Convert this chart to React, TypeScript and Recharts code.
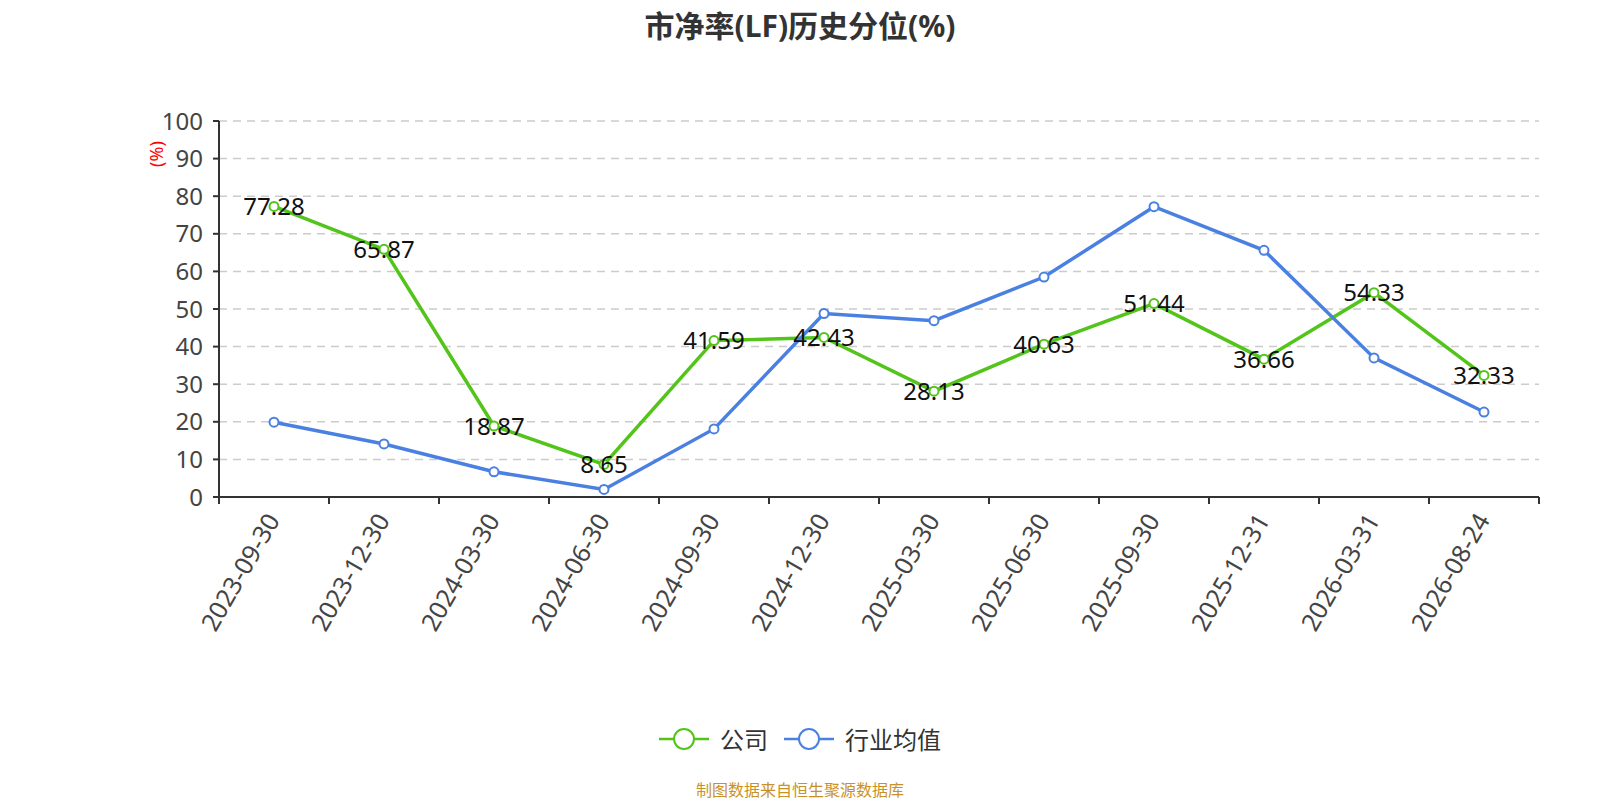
import { LineChart, Line, XAxis, YAxis, CartesianGrid, LabelList } from 'recharts'

const dates = [
  '2023-09-30', '2023-12-30', '2024-03-30', '2024-06-30', '2024-09-30', '2024-12-30',
  '2025-03-30', '2025-06-30', '2025-09-30', '2025-12-31', '2026-03-31', '2026-08-24',
]
const company = [77.28, 65.87, 18.87, 8.65, 41.59, 42.43, 28.13, 40.63, 51.44, 36.66, 54.33, 32.33]
const industry = [19.9, 14.1, 6.7, 2.0, 18.1, 48.8, 46.9, 58.5, 77.2, 65.6, 37.0, 22.6]
const yTicks = [0, 10, 20, 30, 40, 50, 60, 70, 80, 90, 100]

const GREEN = '#52c41a'
const BLUE = '#4a80e1'
const FONT = '"Noto Sans", "Noto Sans CJK SC", sans-serif'

const W = 1600
const H = 800
const PLOT_LEFT = 219
const PLOT_RIGHT = 1539
const PLOT_TOP = 121
const PLOT_BOTTOM = 497
const Y_AXIS_W = 70
const X_AXIS_H = 130
const BAND = (PLOT_RIGHT - PLOT_LEFT) / dates.length

const data = dates.map((date, i) => ({ date, company: company[i], industry: industry[i] }))

// x tick: tick marks sit on the band edges, label rotated under the band centre
function DateTick(props: any) {
  const { x, y, payload, index } = props
  const left = x - BAND / 2
  const last = index === dates.length - 1
  const tx = x - 2
  const ty = y + 18
  return (
    <g>
      <line x1={left} y1={y} x2={left} y2={y + 7} stroke="#333" strokeWidth={2} />
      {last && <line x1={x + BAND / 2} y1={y} x2={x + BAND / 2} y2={y + 7} stroke="#333" strokeWidth={2} />}
      <text
        x={tx}
        y={ty}
        transform={`rotate(-60, ${tx}, ${ty})`}
        textAnchor="end"
        dominantBaseline="central"
        fontSize={25}
        fill="#444"
        fontFamily={FONT}
      >
        {payload.value}
      </text>
    </g>
  )
}

function ValueLabel(props: any) {
  const { x, y, value } = props
  return (
    <text x={x} y={y - 1} textAnchor="middle" dominantBaseline="central" fontSize={24} fill="#111" fontFamily={FONT}>
      {Number(value).toFixed(2)}
    </text>
  )
}

function LegendItem({ color, label }: { color: string; label: string }) {
  return (
    <div style={{ display: 'flex', alignItems: 'center', marginRight: 16 }}>
      <svg width={50} height={26}>
        <line x1={0} y1={13} x2={50} y2={13} stroke={color} strokeWidth={2.5} />
        <circle cx={25} cy={13} r={10} fill="#fff" stroke={color} strokeWidth={2} />
      </svg>
      <span style={{ marginLeft: 11, fontSize: 24, color: '#333' }}>{label}</span>
    </div>
  )
}

export default function App() {
  return (
    <div style={{ position: 'absolute', left: 0, top: 0, width: W, height: H, background: '#fff', fontFamily: FONT }}>
      <div style={{ position: 'absolute', top: 2, width: W, textAlign: 'center', fontSize: 30, fontWeight: 700, color: '#333' }}>
        市净率(LF)历史分位(%)
      </div>
      <div
        style={{
          position: 'absolute', left: 143, top: 142, fontSize: 18, color: '#f00',
          transform: 'rotate(-90deg)', transformOrigin: 'center',
        }}
      >
        (%)
      </div>
      <LineChart
        width={W}
        height={H}
        data={data}
        margin={{
          top: PLOT_TOP,
          left: PLOT_LEFT - Y_AXIS_W,
          right: W - PLOT_RIGHT,
          bottom: H - PLOT_BOTTOM - X_AXIS_H,
        }}
      >
        <CartesianGrid vertical={false} stroke="#ccc" strokeWidth={1.5} strokeDasharray="8 6" horizontalValues={yTicks.slice(1)} />
        <XAxis
          dataKey="date"
          height={X_AXIS_H}
          interval={0}
          padding={{ left: BAND / 2, right: BAND / 2 }}
          tickLine={false}
          tickSize={0}
          tickMargin={0}
          axisLine={{ stroke: '#333', strokeWidth: 2 }}
          tick={<DateTick />}
        />
        <YAxis
          domain={[0, 100]}
          ticks={yTicks}
          width={Y_AXIS_W}
          tickSize={6}
          tickMargin={10}
          axisLine={{ stroke: '#333', strokeWidth: 2 }}
          tickLine={{ stroke: '#333', strokeWidth: 2 }}
          tick={{ fontSize: 24, fill: '#444', fontFamily: FONT }}
        />
        <Line
          dataKey="company"
          stroke={GREEN}
          strokeWidth={3.5}
          dot={{ r: 4.5, fill: '#fff', stroke: GREEN, strokeWidth: 2 }}
          isAnimationActive={false}
        />
        <Line
          dataKey="industry"
          stroke={BLUE}
          strokeWidth={3.5}
          dot={{ r: 4.5, fill: '#fff', stroke: BLUE, strokeWidth: 2 }}
          isAnimationActive={false}
        />
        <Line dataKey="company" stroke="none" dot={false} activeDot={false} isAnimationActive={false}>
          <LabelList dataKey="company" content={<ValueLabel />} />
        </Line>
      </LineChart>
      <div style={{ position: 'absolute', top: 721, width: W, display: 'flex', justifyContent: 'center', paddingLeft: 8 }}>
        <LegendItem color={GREEN} label="公司" />
        <LegendItem color={BLUE} label="行业均值" />
      </div>
      <div style={{ position: 'absolute', top: 777, width: W, textAlign: 'center', fontSize: 16, color: '#c8922a' }}>
        制图数据来自恒生聚源数据库
      </div>
    </div>
  )
}
